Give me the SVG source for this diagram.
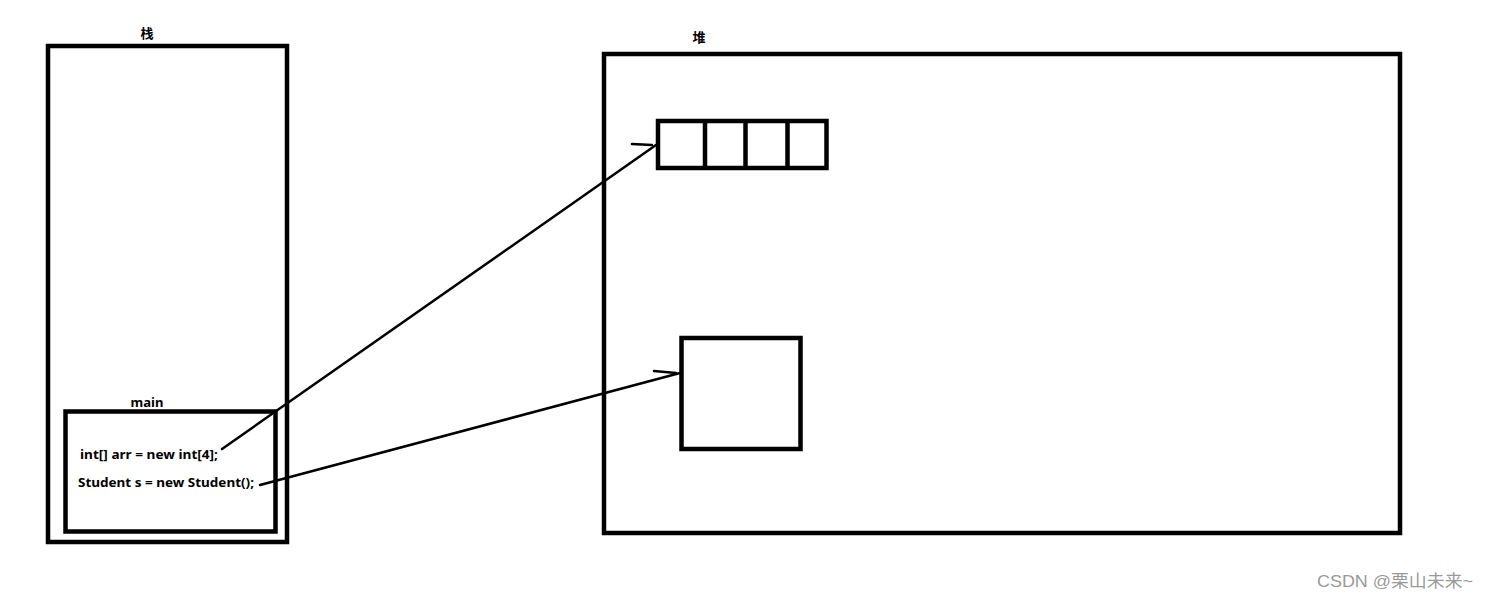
<svg xmlns="http://www.w3.org/2000/svg" width="1489" height="599" viewBox="0 0 1489 599">
<style>
.box{fill:none;stroke:#000;stroke-width:4.5}
.ln{fill:none;stroke:#000;stroke-width:2.5;stroke-linecap:round}
.lbl{font-family:"Noto Sans","Noto Sans CJK SC","Liberation Sans",sans-serif;font-weight:bold;font-size:13px;fill:#000}
.code{font-family:"Noto Sans","Liberation Sans",sans-serif;font-weight:bold;font-size:13px;fill:#000}
.wm{font-family:"Liberation Sans","Noto Sans CJK SC",sans-serif;font-size:17px;fill:#9a9a9a}
</style>
<rect width="1489" height="599" fill="#fff"/>
<g id="stack">
<rect class="box" x="48" y="46" width="239" height="496"/>
<text class="lbl" x="147" y="38" text-anchor="middle">栈</text>
</g>
<g id="main">
<rect class="box" x="65.5" y="411.5" width="210" height="120"/>
<text class="lbl" x="147" y="407" text-anchor="middle">main</text>
<text class="code" x="80" y="459" textLength="138" lengthAdjust="spacingAndGlyphs">int[] arr = new int[4];</text>
<text class="code" x="78" y="487" textLength="176" lengthAdjust="spacingAndGlyphs">Student s = new Student();</text>
</g>
<g id="heap">
<rect class="box" x="604" y="54" width="796" height="479"/>
<text class="lbl" x="699" y="42" text-anchor="middle">堆</text>
</g>
<g id="array">
<rect class="box" x="658" y="121" width="168.5" height="47"/>
<line class="box" x1="705" y1="121" x2="705" y2="168"/>
<line class="box" x1="745.5" y1="121" x2="745.5" y2="168"/>
<line class="box" x1="787.5" y1="121" x2="787.5" y2="168"/>
</g>
<g id="student">
<rect class="box" x="681.5" y="338" width="119" height="111"/>
</g>
<g id="connectors">
<line class="ln" x1="222" y1="449" x2="656" y2="145"/>
<line class="ln" x1="632" y1="144" x2="652" y2="145"/>
<line class="ln" x1="260" y1="485" x2="680" y2="373"/>
<line class="ln" x1="654" y1="371" x2="676" y2="373"/>
</g>
<text class="wm" x="1317" y="587" textLength="156" lengthAdjust="spacingAndGlyphs">CSDN @栗山未来~</text>
</svg>
